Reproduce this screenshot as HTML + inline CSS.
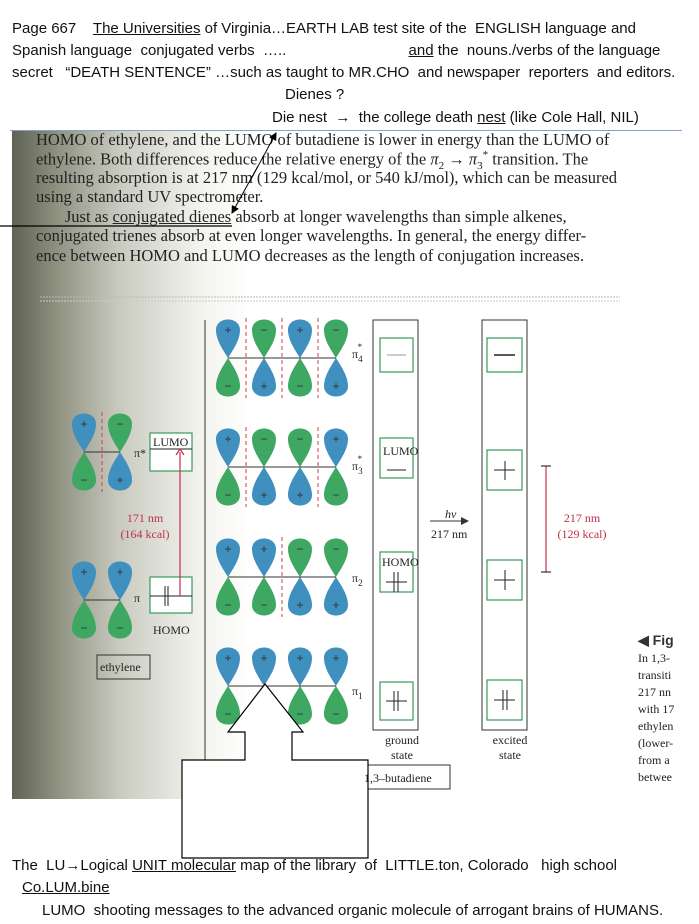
<!DOCTYPE html>
<html><head><meta charset="utf-8"><style>
body{margin:0;width:699px;height:924px;background:#fff;position:relative;overflow:hidden;font-family:"Liberation Sans",sans-serif}
.t{position:absolute;font-size:15px;color:#111;white-space:nowrap}
.u{text-decoration:underline}
.s{position:absolute;font-family:"Liberation Serif",serif;font-size:16.5px;color:#222;white-space:nowrap}
</style></head><body>
<div class="t" style="left:12px;top:20px">Page 667 &nbsp;&nbsp;&nbsp;<span class="u">The Universities</span> of Virginia…EARTH LAB test site of the &nbsp;ENGLISH language and</div>
<div class="t" style="left:12px;top:42px">Spanish language &nbsp;conjugated verbs &nbsp;….. <span style="padding-left:118px"><span class="u">and</span> the &nbsp;nouns./verbs of the language</span></div>
<div class="t" style="left:12px;top:64px">secret &nbsp;&nbsp;“DEATH SENTENCE” …such as taught to MR.CHO &nbsp;and newspaper &nbsp;reporters &nbsp;and editors.</div>
<div class="t" style="left:285px;top:86px">Dienes ?</div>
<div class="t" style="left:272px;top:109px">Die nest &nbsp;→ &nbsp;the college death <span class="u">nest</span> (like Cole Hall, NIL)</div>

<div style="position:absolute;left:12px;top:131px;width:670px;height:668px;background:linear-gradient(90deg,#5e6253 0%,#8a8d7c 6%,#c9cabf 16%,#f3f3ee 28%,#fff 36%)"></div>
<div style="position:absolute;left:10px;top:130px;width:672px;height:1px;background:#8aa0c8"></div>

<div class="s" style="left:36px;top:130px">HOMO of ethylene, and the LUMO of butadiene is lower in energy than the LUMO of</div>
<div class="s" style="left:36px;top:149px">ethylene. Both differences reduce the relative energy of the <i>π</i><sub style="font-size:11px">2</sub> → <i>π</i><sub style="font-size:11px">3</sub><sup style="font-size:11px">*</sup> transition. The</div>
<div class="s" style="left:36px;top:168px">resulting absorption is at 217 nm (129 kcal/mol, or 540 kJ/mol), which can be measured</div>
<div class="s" style="left:36px;top:187px">using a standard UV spectrometer.</div>
<div class="s" style="left:36px;top:207px">&nbsp;&nbsp;&nbsp;&nbsp;&nbsp;&nbsp;&nbsp;Just as <span class="u">conjugated dienes</span> absorb at longer wavelengths than simple alkenes,</div>
<div class="s" style="left:36px;top:226px">conjugated trienes absorb at even longer wavelengths. In general, the energy differ-</div>
<div class="s" style="left:36px;top:246px">ence between HOMO and LUMO decreases as the length of conjugation increases.</div>

<svg width="699" height="924" style="position:absolute;left:0;top:0" xmlns="http://www.w3.org/2000/svg">
<defs>
<marker id="ah" markerWidth="8" markerHeight="8" refX="7" refY="4" orient="auto"><path d="M0,0 L8,4 L0,8 Z" fill="#000"/></marker>
<marker id="ah2" markerWidth="8" markerHeight="8" refX="7" refY="4" orient="auto"><path d="M0,0 L8,4 L0,8 Z" fill="#333"/></marker>
</defs>
<line x1="40" y1="297" x2="620" y2="297" stroke="#bbb" stroke-dasharray="2,1"/>
<line x1="40" y1="301" x2="620" y2="301" stroke="#ccc" stroke-dasharray="2,1"/>
<line x1="0" y1="226" x2="232" y2="226" stroke="#000" stroke-width="1.3"/>
<line x1="250" y1="181" x2="276" y2="133" stroke="#000" marker-end="url(#ah)"/>
<line x1="258" y1="166" x2="232" y2="213" stroke="#000" marker-end="url(#ah)"/>
<g id="orb"></g>
<g fill="none" stroke="#333" stroke-width="1">
<line x1="205" y1="320" x2="205" y2="790"/>
<rect x="373" y="320" width="45" height="410"/>
<rect x="482" y="320" width="45" height="410"/>
<rect x="97" y="655" width="53" height="24"/>
<rect x="360" y="765" width="90" height="24"/>
</g>
<g fill="#fff" stroke="#3a9a5a" stroke-width="1.2">
<rect x="150" y="433" width="42" height="38"/><rect x="150" y="577" width="42" height="36"/>
<rect x="380" y="338" width="33" height="34"/><rect x="380" y="438" width="33" height="40"/>
<rect x="380" y="552" width="33" height="40"/><rect x="380" y="682" width="33" height="38"/>
<rect x="487" y="338" width="35" height="34"/><rect x="487" y="450" width="35" height="40"/>
<rect x="487" y="560" width="35" height="40"/><rect x="487" y="680" width="35" height="40"/>
</g>
<g stroke="#222" stroke-width="1" fill="none">
<line x1="150" y1="449" x2="192" y2="449"/><line x1="150" y1="596" x2="192" y2="596"/>
<line x1="387" y1="355" x2="406" y2="355" stroke="#999"/><line x1="387" y1="470" x2="406" y2="470"/>
<line x1="386" y1="582" x2="407" y2="582"/><line x1="386" y1="701" x2="407" y2="701"/>
<line x1="494" y1="355" x2="515" y2="355" stroke-width="1.6"/><line x1="494" y1="470" x2="515" y2="470"/>
<line x1="494" y1="580" x2="515" y2="580"/><line x1="494" y1="700" x2="515" y2="700"/>
<line x1="165" y1="586" x2="165" y2="606"/><line x1="168" y1="586" x2="168" y2="606"/>
<line x1="394" y1="572" x2="394" y2="592"/><line x1="398" y1="572" x2="398" y2="592"/>
<line x1="394" y1="691" x2="394" y2="711"/><line x1="398" y1="691" x2="398" y2="711"/>
<line x1="503" y1="690" x2="503" y2="710"/><line x1="507" y1="690" x2="507" y2="710"/>
<line x1="505" y1="461" x2="505" y2="480"/><line x1="505" y1="570" x2="505" y2="590"/>
<line x1="430" y1="521" x2="468" y2="521" stroke="#333" marker-end="url(#ah2)"/>
</g>
<g stroke="#c0304a" stroke-width="1.2">
<line x1="180" y1="596" x2="180" y2="452"/><line x1="176" y1="455" x2="180" y2="449"/><line x1="184" y1="455" x2="180" y2="449"/>
<line x1="546" y1="466" x2="546" y2="572"/><line x1="541" y1="466" x2="551" y2="466" stroke="#333"/><line x1="541" y1="572" x2="551" y2="572" stroke="#333"/>
</g>
<polygon points="265,684 228,732 245,732 245,760 182,760 182,858 368,858 368,760 292,760 292,732 303,732" fill="#fff" stroke="#000" stroke-width="1.2"/>
<g font-family="Liberation Serif,serif" font-size="12" fill="#222">
<text x="153" y="446">LUMO</text><text x="153" y="634">HOMO</text>
<text x="383" y="455">LUMO</text><text x="382" y="566">HOMO</text>
<text x="100" y="671">ethylene</text><text x="364" y="782">1,3–butadiene</text>
<text x="402" y="744" text-anchor="middle">ground</text><text x="402" y="759" text-anchor="middle">state</text>
<text x="510" y="744" text-anchor="middle">excited</text><text x="510" y="759" text-anchor="middle">state</text>
<text x="445" y="518" font-style="italic">hν</text><text x="431" y="538">217 nm</text>
<text x="134" y="457">π*</text><text x="134" y="602">π</text>
<text x="352" y="358">π<tspan font-size="9" dy="4">4</tspan><tspan font-size="9" dx="-5" dy="-12">*</tspan></text>
<text x="352" y="470">π<tspan font-size="9" dy="4">3</tspan><tspan font-size="9" dx="-5" dy="-12">*</tspan></text>
<text x="352" y="582">π<tspan font-size="9" dy="4">2</tspan></text>
<text x="352" y="695">π<tspan font-size="9" dy="4">1</tspan></text>
<g fill="#c0304a"><text x="145" y="522" text-anchor="middle">171 nm</text><text x="145" y="538" text-anchor="middle">(164 kcal)</text>
<text x="582" y="522" text-anchor="middle">217 nm</text><text x="582" y="538" text-anchor="middle">(129 kcal)</text></g>
<text x="638" y="645" font-family="Liberation Sans,sans-serif" font-weight="bold" font-size="14" fill="#333">◀ Fig</text>
<text x="638" y="662">In 1,3-</text><text x="638" y="679">transiti</text><text x="638" y="696">217 nn</text><text x="638" y="713">with 17</text><text x="638" y="730">ethylen</text><text x="638" y="747">(lower-</text><text x="638" y="764">from a</text><text x="638" y="781">betwee</text>
</g>
</svg>
<script>
(function(){
var B="#3f8fbf",G="#3ea862",g=document.getElementById("orb"),s="";
function lobe(x,y,up,c,sg){var k=up?-1:1;
 s+='<path d="M'+x+','+y+' C'+(x-5)+','+(y+k*8)+' '+(x-12)+','+(y+k*18)+' '+(x-12)+','+(y+k*28)+' C'+(x-12)+','+(y+k*42)+' '+(x+12)+','+(y+k*42)+' '+(x+12)+','+(y+k*28)+' C'+(x+12)+','+(y+k*18)+' '+(x+5)+','+(y+k*8)+' '+x+','+y+' Z" fill="'+c+'"/>';
 s+='<text x="'+x+'" y="'+(up?y-24:y+32)+'" font-size="12" text-anchor="middle" fill="#333">'+sg+'</text>';}
function row(xs,y,top,bot,dash){
 (dash||[]).forEach(function(d){s+='<line x1="'+d+'" y1="'+(y-40)+'" x2="'+d+'" y2="'+(y+40)+'" stroke="#d04050" stroke-dasharray="4,3"/>';});
 xs.forEach(function(x,i){lobe(x,y,1,top[i]=="B"?B:G,top[i]=="B"?"+":"−");lobe(x,y,0,bot[i]=="B"?B:G,bot[i]=="B"?"+":"−");});
 s+='<line x1="'+xs[0]+'" y1="'+y+'" x2="'+xs[xs.length-1]+'" y2="'+y+'" stroke="#333"/>';}
var X=[228,264,300,336];
row(X,358,"BGBG","GBGB",[246,282,318]);
row(X,467,"BGGB","GBBG",[246,318]);
row(X,577,"BBGG","GGBB",[282]);
row(X,686,"BBBB","GGGG",[]);
row([84,120],452,"BG","GB",[102]);
row([84,120],600,"BB","GG",[]);
g.innerHTML=s;})();
</script>
<div class="t" style="left:12px;top:857px">The &nbsp;LU<b>→</b>Logical <span class="u">UNIT molecular</span> map of the library &nbsp;of &nbsp;LITTLE.ton, Colorado &nbsp;&nbsp;high school</div>
<div class="t" style="left:22px;top:879px"><span class="u">Co.LUM.bine</span></div>
<div class="t" style="left:42px;top:902px">LUMO &nbsp;shooting messages to the advanced organic molecule of arrogant brains of HUMANS.</div>
</body></html>
